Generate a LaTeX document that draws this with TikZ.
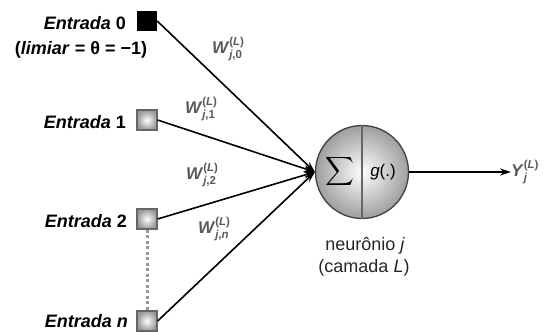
\documentclass[tikz,border=0pt]{standalone}
\usepackage{graphicx}
\usepackage{fontspec}
\setmainfont{Liberation Sans}
\usetikzlibrary{shapes,arrows.meta,positioning,calc}

% rotulo de peso: letra com indices superior e inferior empilhados
\newcommand{\pesoind}[3]{\textit{#1}\raisebox{-5pt}{\fontsize{11.5}{11.5}\selectfont
  \shortstack[l]{(\textit{#3})\\[-1.5pt]#2}}}

\tikzset{
  entrada/.style={rectangle, minimum size=20pt, inner sep=0pt, draw=black!60, line width=1.2pt,
    shading=radial, inner color=white, outer color=black!40},
  limiar/.style={rectangle, minimum size=20pt, inner sep=0pt, fill=black},
  rotulo/.style={font=\fontsize{18}{20}\selectfont\bfseries, anchor=east, inner sep=0pt},
  peso/.style={font=\fontsize{17}{19}\selectfont\bfseries, text=black!65, inner sep=0pt},
  legenda/.style={font=\fontsize{18}{20}\selectfont, text=black!85, inner sep=0pt},
  sinal/.style={line width=1.6pt, -{Stealth[length=11pt,width=7pt]}}
}

\begin{document}
\begin{tikzpicture}[x=1pt,y=-1pt]
\useasboundingbox (0,0) rectangle (544,332);
% Entradas (quadrados)
\node[limiar]  (e0) at (147,21)  {};
\node[entrada] (e1) at (147,120) {};
\node[entrada] (e2) at (147,219) {};
\node[entrada] (en) at (147,321) {};
\draw[black!40, line width=3pt, dash pattern=on 3pt off 2.5pt] (e2.south) -- (en.north);
% Rotulos das entradas
\node[rotulo] (r0) at (126,23.5)  {\textit{Entrada} 0};
\node[rotulo, anchor=center] (lim) at (81,50) {(\textit{limiar} = θ = −1)};
\node[rotulo] (r1) at (126,122.5) {\textit{Entrada} 1};
\node[rotulo] (r2) at (127,221.5) {\textit{Entrada} 2};
\node[rotulo] (rn) at (128,321.5) {\textit{Entrada n}};
% Neuronio j
\node[circle, minimum size=93pt, inner sep=0pt, draw=black!75, line width=1.3pt,
  shading=radial, inner color=white, outer color=black!38] (nj) at (362,172) {};
\draw[black!60, line width=1.5pt] (nj.north) -- (nj.south);
\node[inner sep=0pt] (soma) at (340,171.5) {\scalebox{2.0}{$\displaystyle\sum$}};
\node[font=\fontsize{17}{19}\selectfont, inner sep=0pt] (g) at (383,172) {\textit{g}(.)};
\node[legenda] (nome) at (365,246) {neurônio \textit{j}};
\node[legenda] (camada) at (364,268) {(camada \textit{L})};
% Sinapses
\draw[sinal] (e0.east) -- (nj.west);
\draw[sinal] (e1.east) -- (nj.west);
\draw[sinal] (e2.east) -- (nj.west);
\draw[sinal] (en.east) -- (nj.west);
% Pesos
\node[peso] (w0) at (228,49)  {\pesoind{W}{\textit{j},0}{L}};
\node[peso] (w1) at (201,109) {\pesoind{W}{\textit{j},1}{L}};
\node[peso] (w2) at (202,175) {\pesoind{W}{\textit{j},2}{L}};
\node[peso] (wn) at (214,229) {\pesoind{W}{\textit{j},\textit{n}}{L}};
% Saida
\node[peso, anchor=west] (y) at (511,172) {\pesoind{Y}{\textit{j}}{L}};
\draw[sinal] (nj.east) -- (nj.east -| y.west);
\end{tikzpicture}
\end{document}
